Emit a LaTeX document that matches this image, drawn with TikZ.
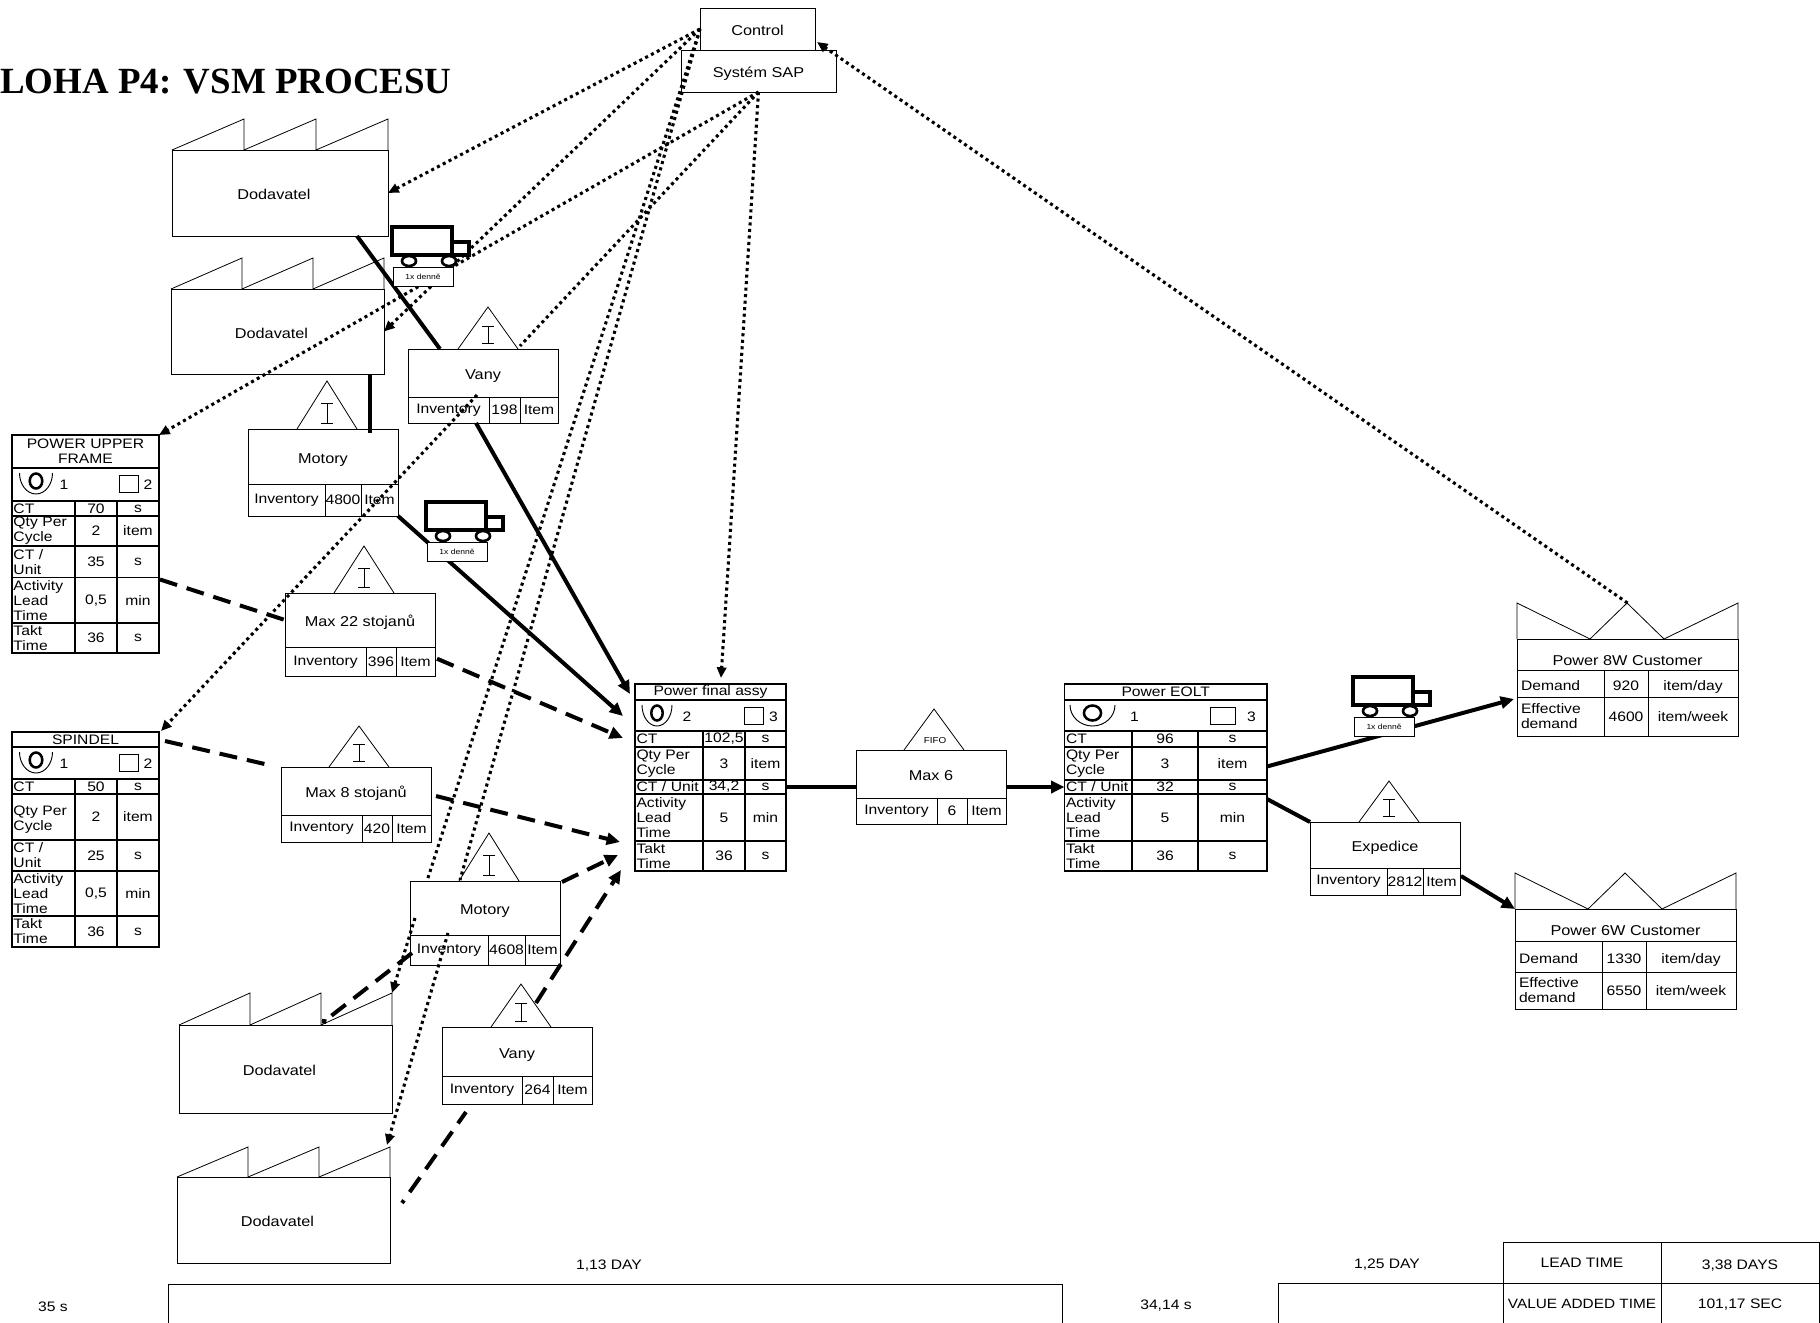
\documentclass[tikz,border=0pt]{standalone}
\usepackage{fontspec}
\setmainfont[FakeStretch=1.14]{Liberation Sans}
\newfontfamily\titlefont{Liberation Serif}
\usepackage{tikz}
\usetikzlibrary{arrows.meta, positioning, calc}
\def\pxu{0.75pt}
\newcommand{\bodyfont}{\fontsize{10.7}{11.25}\selectfont}
\newcommand{\cellfont}{\fontsize{10.3}{11.25}\selectfont}
\tikzset{
  sized/.style 2 args={minimum width=(#1)*\pxu, minimum height=(#2)*\pxu},
  stockcell/.style={
    rectangle, draw, line width=0.65pt, fill=white, inner sep=0pt, outer sep=0pt,
    anchor=north west, align=center, font=\bodyfont
  },
  lowtext/.style={text height=10pt, text depth=0pt},
  smallcell/.style={stockcell, font=\cellfont},
  tablecell/.style={smallcell, line width=1pt},
  labelcell/.style={tablecell, align=left, inner xsep=1.5*\pxu},
  custlabel/.style={smallcell, align=left, inner xsep=4*\pxu},
  plaintext/.style={inner sep=0pt, outer sep=0pt, font=\cellfont},
  thinline/.style={draw, line width=0.6pt},
  truckline/.style={draw, line width=2.3pt, fill=white},
  tagbox/.style={stockcell, line width=0.6pt, font=\fontsize{5.6}{6}\selectfont},
  flowline/.style={draw, -{Triangle[length=10pt, width=9pt]}, line width=3pt},
  plainline/.style={draw, line width=3pt},
  pushline/.style={flowline, dash pattern=on 13.5pt off 7.5pt},
  pushplain/.style={plainline, dash pattern=on 13.5pt off 7.5pt},
  infoline/.style={draw, line width=2.3pt, dash pattern=on 2.3pt off 2.6pt},
  infoflow/.style={infoline, -{Triangle[length=8pt, width=7pt]}}
}
% Factory with a saw-tooth roof
\newcommand{\factorybox}[6]{%
  \node[stockcell, lowtext, sized={#4}{#5}] (#1) at (#2,#3) {Dodavatel\hspace{9pt}};
  \draw[thinline] (#1.north west) -- ++(#4/3,-#6) -- ++(0,#6) -- ++(#4/3,-#6) -- ++(0,#6) -- ++(#4/3,-#6) -- ++(0,#6);
}
% Stock box: title on top, inventory row below
\newcommand{\inventorybox}[9]{%
  \node[stockcell, lowtext, sized={150}{#4}] (#1) at (#2,#3) {#8};
  \node[smallcell, sized={#6}{#5}] (#1inv) at (#1.south west) {Inventory};
  \node[smallcell, sized={#7-#6}{#5}] (#1num) at (#1inv.north east) {#9};
  \node[smallcell, sized={150-#7}{#5}] (#1unit) at (#1num.north east) {Item};
}
% Triangle with the I-beam above a stock box
\newcommand{\stockmark}[3]{%
  \draw[thinline] ($(#1.north west)+(#2-30,0)$) -- ++(30,-#3) -- ++(30,#3);
  \draw[thinline] ($(#1.north west)+(#2-6,-6)$) -- ++(12,0) ++(-6,0) -- ++(0,-0.4*#3) ++(-6,0) -- ++(12,0);
}
% Process table: title and icon rows
\newcommand{\processhead}[7]{%
  \node[tablecell, font=\cellfont, sized={#4}{#6}] (#1) at (#2,#3) {#5};
  \node[tablecell, sized={#4}{#7}] (#1icon) at (#1.south west) {};
}
% Operator and shift counts in the icon row
\newcommand{\opcount}[9]{%
  \draw[line width=1.9pt] ($(#1icon.north west)+(#2,13)$) ellipse [x radius=0.38*#3, y radius=7.5];
  \draw[line width=0.7pt] ($(#1icon.north west)+(#2-#3,5)$) arc [start angle=180, end angle=0, x radius=#3, y radius=21];
  \node[plaintext] (#1ops) at ($(#1icon.north west)+(#4,17)$) {#5};
  \node[stockcell, line width=0.6pt, sized={#7}{17}] (#1box) at ($(#1icon.north west)+(#6,7)$) {};
  \node[plaintext] (#1shifts) at ($(#1icon.north west)+(#8,17)$) {#9};
}
% Process table: data rows, one below the other
\newcommand{\processrows}[5]{%
  \coordinate (#1row0) at (#1icon.south west);
  \foreach \rowh/\rowlab/\rowval/\rowunit [count=\rowno] in {#5} {
    \pgfmathtruncatemacro{\prevno}{\rowno-1}
    \node[labelcell, sized={#2}{\rowh}, text width=(#2-3)*\pxu] (#1lab\rowno) at (#1row\prevno) {\rowlab};
    \node[tablecell, font=\cellfont, sized={#3}{\rowh}] (#1val\rowno) at (#1lab\rowno.north east) {\rowval};
    \node[tablecell, font=\cellfont, sized={#4}{\rowh}] (#1unit\rowno) at (#1val\rowno.north east) {\rowunit};
    \coordinate (#1row\rowno) at (#1lab\rowno.south west);
  }
}
% Customer box with crown roof
\newcommand{\customerbox}[9]{%
  \node[stockcell, sized={221}{#5}] (#1) at (#2,#3) {\raisebox{-8pt}[0pt][0pt]{#4}};
  \draw[thinline] (#1.north west) -- ++(0,-36) -- ++(73,36) -- ++(37,-36) -- ++(37,36) -- ++(74,-36) -- ++(0,36);
  \node[custlabel, lowtext, sized={87}{#6}, text width=79*\pxu] (#1dem) at (#1.south west) {Demand};
  \node[smallcell, lowtext, sized={44}{#6}] (#1demval) at (#1dem.north east) {#8};
  \node[smallcell, lowtext, sized={90}{#6}] (#1demunit) at (#1demval.north east) {item/day};
  \node[custlabel, sized={87}{#7}, text width=79*\pxu] (#1eff) at (#1dem.south west) {Effective\\demand};
  \node[smallcell, sized={44}{#7}] (#1effval) at (#1eff.north east) {#9};
  \node[smallcell, sized={90}{#7}] (#1effunit) at (#1effval.north east) {item/week};
}
% Delivery truck with its frequency tag
\newcommand{\truckicon}[3]{%
  \begin{scope}[shift={(#2,#3)}]
    \draw[truckline] (0,0) rectangle (60,28);
    \draw[truckline] (60,15) rectangle (77,28);
    \draw[truckline, line width=2pt] (17,34) ellipse [x radius=7, y radius=5];
    \draw[truckline, line width=2pt] (57,34) ellipse [x radius=7, y radius=5];
    \node[tagbox, sized={60}{19}] (#1) at (1,40) {1x denně};
  \end{scope}
}

\begin{document}
\begin{tikzpicture}[x=0.75pt, y=-0.75pt]
  \useasboundingbox (0,0) rectangle (1820,1323);
  \clip (0,0) rectangle (1820,1323);

  \node[anchor=base west, inner sep=0pt, font=\titlefont\bfseries\fontsize{27.7}{30}\selectfont] (sheettitle) at (0,94) {LOHA P4: VSM PROCESU};

  % Planning nodes
  \node[stockcell, lowtext, sized={115}{42}] (control) at (700,8) {Control};
  \node[stockcell, lowtext, sized={155}{42}] (sap) at (681,50) {Systém SAP};

  % Suppliers
  \factorybox{dodavatela}{172}{150}{216}{86}{31}
  \factorybox{dodavatelb}{171}{289}{213}{85}{31}
  \factorybox{dodavatelc}{179}{1025}{213}{88}{32}
  \factorybox{dodavateld}{177}{1177}{213}{86}{30}

  % Stock boxes
  \inventorybox{vanya}{408}{349}{48}{26}{81}{112}{Vany}{198}
  \stockmark{vanya}{80}{42}
  \inventorybox{motorya}{248}{429}{55}{32}{77}{113}{Motory}{4800}
  \stockmark{motorya}{79}{48}
  \inventorybox{maxtw}{285}{593}{54}{29.4}{81}{111}{Max 22 stojanů}{396}
  \stockmark{maxtw}{79}{47}
  \inventorybox{maxeight}{281}{767}{48}{27}{81}{111}{Max 8 stojanů}{420}
  \stockmark{maxeight}{78}{41}
  \inventorybox{motoryb}{410}{881}{54}{30}{78}{115}{Motory}{4608}
  \stockmark{motoryb}{79}{48}
  \inventorybox{vanyb}{442}{1027}{49}{28}{80}{111}{Vany}{264}
  \stockmark{vanyb}{79}{43}
  \inventorybox{expedice}{1310}{822}{46}{27}{77}{113}{Expedice}{2812}
  \stockmark{expedice}{79}{41}
  \inventorybox{maxsix}{856}{750}{48}{26}{81}{111}{Max 6}{6}
  \draw[thinline] ($(maxsix.north west)+(48,0)$) -- ++(30,-41) -- ++(30,41);
  \node[plaintext, font=\fontsize{6.5}{7}\selectfont] (fifotag) at ($(maxsix.north west)+(79,-9)$) {FIFO};

  % Process tables
  \processhead{upper}{12}{435}{147}{POWER UPPER\\FRAME}{33}{33}
  \opcount{upper}{24}{16.5}{52}{1}{107}{19}{136}{2}
  \processrows{upper}{63}{42}{42}{15/CT/70/s, 30/{Qty Per\\Cycle}/2/item, 31.5/{CT /\\Unit}/35/s, 45.5/{Activity\\Lead\\Time}/{0,5}/min, 30/{Takt\\Time}/36/s}

  \processhead{spindel}{12}{732}{147}{SPINDEL}{15}{32}
  \opcount{spindel}{24}{16.5}{52}{1}{107}{19}{136}{2}
  \processrows{spindel}{63}{42}{42}{15/CT/50/s, 46/{\mbox{}\\Qty Per\\Cycle}/2/item, 31/{CT /\\Unit}/25/s, 45/{Activity\\Lead\\Time}/{0,5}/min, 31/{Takt\\Time}/36/s}

  \processhead{final}{635}{684}{151}{Power final assy}{16}{31}
  \opcount{final}{22}{15}{52}{2}{109}{19}{138.5}{3}
  \processrows{final}{68}{42}{41}{16/CT/{102,5}/s, 33/{Qty Per\\Cycle}/3/item, 14/{CT / Unit}/{34,2}/s, 47/{Activity\\Lead\\Time}/5/min, 30/{Takt\\Time}/36/s}

  \processhead{eolt}{1064.5}{684}{202.5}{Power EOLT}{16}{31}
  \opcount{eolt}{28}{22.5}{70}{1}{146}{25}{187}{3}
  \processrows{eolt}{67.5}{66}{69}{16/CT/96/s, 33/{Qty Per\\Cycle}/3/item, 14/{CT / Unit}/32/s, 47/{Activity\\Lead\\Time}/5/min, 30/{Takt\\Time}/36/s}

  % Customers
  \customerbox{eightw}{1517}{639}{Power 8W Customer}{31}{27}{39}{920}{4600}
  \customerbox{sixw}{1515}{909}{Power 6W Customer}{32}{31}{37}{1330}{6550}

  % Timeline and totals
  \node[plaintext] (lefttime) at (53,1307) {35 s};
  \node[stockcell, sized={894}{60}] (lanea) at (168,1284) {};
  \node[plaintext] (dayone) at (609,1266) {1,13 DAY};
  \node[plaintext] (midtime) at (1166,1306) {34,14 s};
  \node[stockcell, sized={225}{60}] (laneb) at (1278,1283) {};
  \node[plaintext] (daytwo) at (1387,1265) {1,25 DAY};
  \node[smallcell, sized={158}{41}] (leadlabel) at (1503,1242) {LEAD TIME};
  \node[smallcell, lowtext, sized={158}{41}] (leadvalue) at (leadlabel.north east) {3,38 DAYS};
  \node[smallcell, font=\fontsize{10.1}{11}\selectfont, sized={158}{60}] (valuelabel) at (leadlabel.south west) {\raisebox{3.5pt}[0pt][0pt]{VALUE ADDED TIME}};
  \node[smallcell, sized={158}{60}] (valuevalue) at (valuelabel.north east) {\raisebox{3.5pt}[0pt][0pt]{101,17 SEC}};

  % Material flows
  \draw[plainline] ($(dodavatela.south east)+(-31,0)$) -- ($(vanya.north west)+(32,0)$);
  \draw[plainline] ($(dodavatelb.south east)+(-14,0)$) -- ($(motorya.north east)+(-28,4)$);
  \draw[flowline] ($(vanyainv.south west)+(68,0)$) -- ($(final.north west)+(-5,10)$);
  \draw[flowline] (motoryaunit.south east) -- ($(final.north west)+(-12,32)$);
  \draw[plainline] (finalunit3.east) -- (finalunit3.east -| maxsix.west);
  \draw[flowline] (maxsix.east |- eoltlab3.west) -- (eoltlab3.west);
  \draw[flowline] ($(eoltunit2.east)+(0,3)$) -- ($(eightw.south west)+(-3,29)$);
  \draw[plainline] ($(eoltunit4.north east)+(0,5)$) -- (expedice.north west);
  \draw[flowline] ($(expediceunit.north east)+(1,8)$) -- (sixw.north west);

  % Pull flows
  \draw[pushplain] ($(upperunit4.north east)+(1,2)$) -- (maxtw.west);
  \draw[pushline] ($(maxtwunit.east)+(2,-3)$) -- ($(final.north west)+(-12,54)$);
  \draw[pushplain] ($(spindel.north east)+(6,9)$) -- ($(maxeight.north west)+(-12,-2)$);
  \draw[pushline] ($(maxeight.east)+(5,5)$) -- ($(final.north west)+(-15,158)$);
  \draw[pushline] ($(motoryb.north east)+(2,1)$) -- ($(final.north west)+(-17,171)$);
  \draw[pushline] ($(vanyb.north west)+(94,-24)$) -- ($(final.north west)+(-14,186)$);
  \draw[pushplain, dash phase=11pt] ($(dodavateld.north east)+(12,26)$) -- ($(vanybinv.south west)+(24,8)$);
  \draw[pushplain, dash phase=15pt, {Circle[length=4pt]}-] ($(dodavatelc.north east)+(-70,-2)$) -- ($(motorybinv.north west)+(2,18)$);

  % Information flows
  \draw[infoflow] (control.west) -- (dodavatela.east);
  \draw[infoflow] (control.west) -- (dodavatelb.east);
  \draw[infoflow] (sap.south) -- (upper.north east);
  \draw[infoline] (sap.south) -- ($(vanya.north west)+(112,-3)$);
  \draw[infoflow] ($(vanyainv.north west)+(69,-2)$) -- ($(spindel.north east)+(2,-1)$);
  \draw[infoflow] (sap.south) -- ($(final.north west)+(86,-6)$);
  \draw[infoflow] ($(eightw.north)+(0,-36)$) -- ($(control.east)+(2,13)$);
  \draw[infoline] (control.west) -- ($(motoryb.north west)+(17,0)$);
  \draw[infoflow] ($(motoryb.north west)+(5,37)$) -- ($(dodavatelc.north east)+(0,-32)$);
  \draw[infoline] (control.west) -- ($(motoryb.north west)+(50,-1)$);
  \draw[infoflow] ($(motorybinv.north west)+(38,-2)$) -- ($(dodavateld.north east)+(-3,-32)$);

  % Trucks
  \truckicon{truckaTag}{392}{227}
  \truckicon{truckbTag}{426}{502}
  \truckicon{truckcTag}{1353}{677}
\end{tikzpicture}
\end{document}
